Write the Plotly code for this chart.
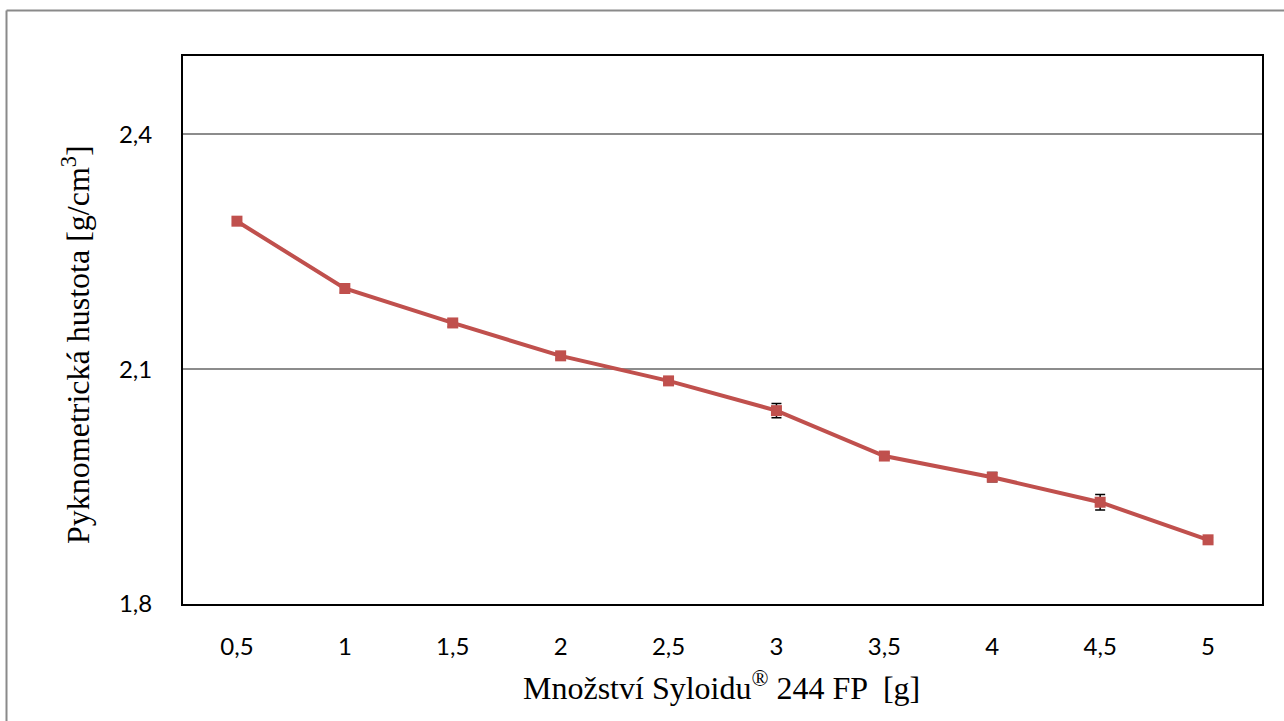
import plotly.graph_objects as go

categories = ["0,5", "1", "1,5", "2", "2,5", "3", "3,5", "4", "4,5", "5"]
density = [2.289, 2.203, 2.159, 2.117, 2.085, 2.047, 1.989, 1.962, 1.930, 1.882]
density_err = [0.004, 0.005, 0.005, 0.004, 0.004, 0.009, 0.004, 0.006, 0.010, 0.003]

RED = "#C0504D"

fig = go.Figure()
fig.add_trace(go.Scatter(
    x=categories, y=density,
    mode="lines+markers",
    line=dict(color=RED, width=4),
    marker=dict(symbol="square", size=11, color=RED),
    error_y=dict(type="data", array=density_err, visible=True,
                 color="black", thickness=1.5, width=5),
    showlegend=False,
))

W, H = 1284, 721
L, R, T, B = 183, 22, 56, 117
pw, ph = W - L - R, H - T - B

def px_x(p):
    return (p - L) / pw

def px_y(p):
    return (H - B - p) / ph

fig.update_layout(
    width=W, height=H,
    margin=dict(l=L, r=R, t=T, b=B),
    paper_bgcolor="white", plot_bgcolor="white",
    xaxis=dict(
        type="category", range=[-0.5, 9.5],
        showgrid=False, zeroline=False,
        showline=True, mirror=True, linecolor="black", linewidth=2,
        ticks="", ticklabelstandoff=20,
        tickfont=dict(family="Lato", size=24, color="black"),
    ),
    yaxis=dict(
        range=[1.8, 2.5], tickvals=[1.8, 2.1, 2.4],
        ticktext=["1,8", "2,1", "2,4"],
        showgrid=True, gridcolor="#8c8c8c", gridwidth=1.5,
        zeroline=False,
        showline=True, mirror=True, linecolor="black", linewidth=2,
        ticks="", ticklabelstandoff=24,
        tickfont=dict(family="Lato", size=24, color="black"),
    ),
    annotations=[
        dict(text="Pyknometrická hustota [g/cm<sup>3</sup>]",
             xref="paper", yref="paper", x=px_x(76), y=px_y(345),
             xanchor="center", yanchor="middle", textangle=-90,
             showarrow=False,
             font=dict(family="Liberation Serif", size=32, color="black")),
        dict(text="Množství Syloidu<sup>®</sup> 244 FP  [g]",
             xref="paper", yref="paper", x=px_x(721), y=px_y(686),
             xanchor="center", yanchor="middle",
             showarrow=False,
             font=dict(family="Liberation Serif", size=32, color="black")),
    ],
    shapes=[
        dict(type="line", xref="paper", yref="paper",
             x0=px_x(6.5), x1=px_x(1300), y0=px_y(10.5), y1=px_y(10.5),
             line=dict(color="#8a8a8a", width=2)),
        dict(type="line", xref="paper", yref="paper",
             x0=px_x(6.5), x1=px_x(6.5), y0=px_y(10.5), y1=px_y(740),
             line=dict(color="#8a8a8a", width=2)),
    ],
)

fig.write_html("out.html")
